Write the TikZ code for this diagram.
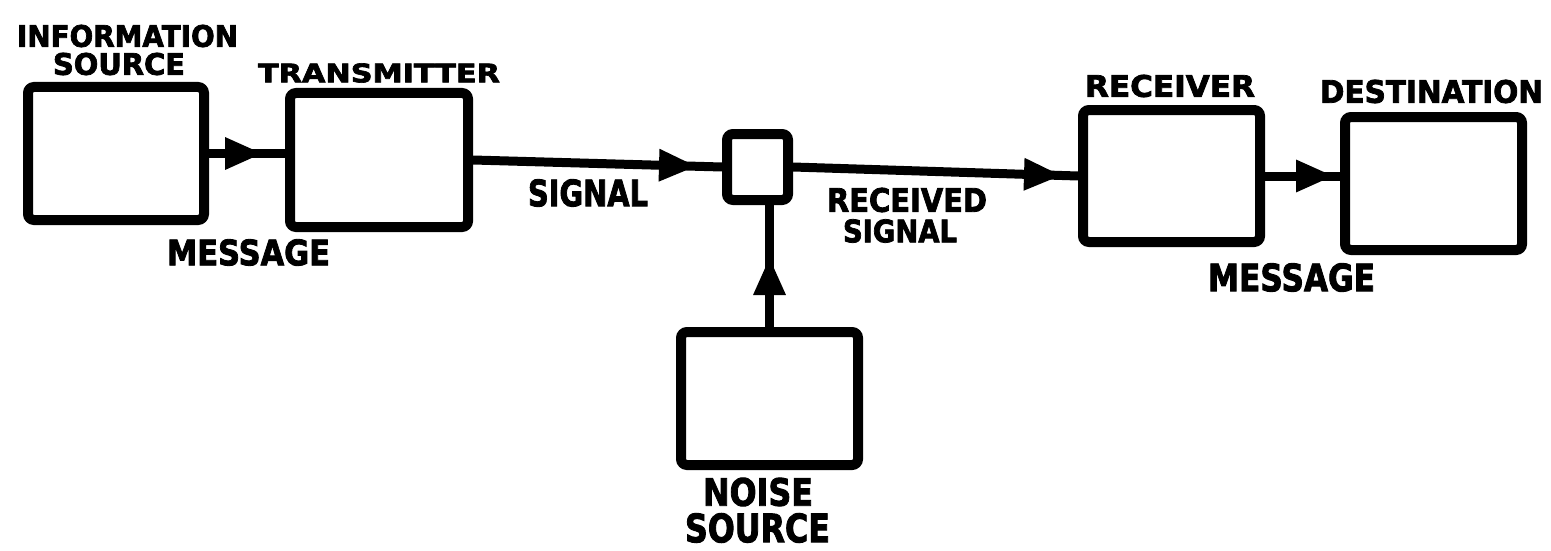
\documentclass[tikz,border=0pt]{standalone}
\usepackage{fontspec}
\setmainfont{DejaVu Sans}[BoldFeatures={FakeBold=2.5}]
\usetikzlibrary{arrows.meta,decorations.markings}
\newcommand\fitto[3]{\resizebox{#1pt}{#2pt}{#3}}
\begin{document}
\begin{tikzpicture}[x=1pt,y=-1pt,
  box/.style={draw, line width=10pt, rounded corners=6pt, inner sep=0pt, fill=white},
  conn/.style={line width=9pt},
  tipat/.style={postaction={decorate}, decoration={markings, mark=at position #1 with {\arrow{Triangle[length=38pt,width=30pt]}}}},
  lbl/.style={inner sep=0pt, font=\bfseries}
]
\useasboundingbox (0,0) rectangle (1551,551);
\fill[white] (0,0) rectangle (1551,551);

% boxes
\node[box, minimum width=176pt, minimum height=133pt] (info) at (116,153.5) {};
\node[box, minimum width=178pt, minimum height=134pt] (tx) at (379,160) {};
\node[box, minimum width=61pt, minimum height=66pt] (mix) at (757.5,167) {};
\node[box, minimum width=177pt, minimum height=132pt] (rx) at (1171.5,176) {};
\node[box, minimum width=177pt, minimum height=133pt] (dest) at (1433.5,183.5) {};
\node[box, minimum width=177pt, minimum height=133pt] (noise) at (769.5,398.5) {};

% connectors
\draw[conn, tipat=-22pt] (info.east) -- (info.east -| tx.west);
\draw[conn, tipat=-25pt] (tx.east) -- (mix.west);
\draw[conn, tipat=-16pt] (mix.east) -- (rx.west);
\draw[conn, tipat=-6pt] (rx.east) -- (rx.east -| dest.west);
\draw[conn, tipat=-52pt] (noise.north) -- (noise.north |- mix.south);

% labels
\node[lbl] (l1) at (127.5,36) {\fitto{221}{22}{INFORMATION}};
\node[lbl] (l2) at (119,64) {\fitto{132}{22}{SOURCE}};
\node[lbl] (l3) at (379,73) {\fitto{242}{19}{TRANSMITTER}};
\node[lbl] (l4) at (248.5,252.5) {\fitto{163}{26}{MESSAGE}};
\node[lbl] (l5) at (588,193) {\fitto{120}{27}{SIGNAL}};
\node[lbl] (l6) at (907,200) {\fitto{160}{24}{RECEIVED}};
\node[lbl] (l7) at (900,231) {\fitto{114}{23}{SIGNAL}};
\node[lbl] (l8) at (1170,86) {\fitto{170}{22}{RECEIVER}};
\node[lbl] (l9) at (1431.5,91.5) {\fitto{223}{23}{DESTINATION}};
\node[lbl] (l10) at (1291.5,277.5) {\fitto{167}{28}{MESSAGE}};
\node[lbl] (l11) at (758,492) {\fitto{110}{28}{NOISE}};
\node[lbl] (l12) at (757.5,528) {\fitto{145}{29}{SOURCE}};
\end{tikzpicture}
\end{document}
